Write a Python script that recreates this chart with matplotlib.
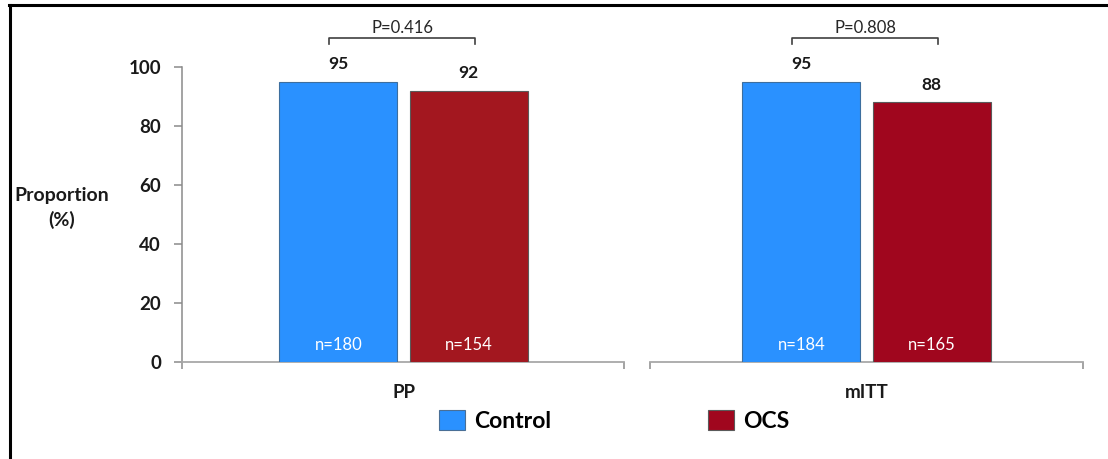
import matplotlib
matplotlib.use("Agg")
import matplotlib.pyplot as plt
from matplotlib.lines import Line2D
from matplotlib.patches import Patch

plt.rcParams['font.family'] = ['Lato', 'DejaVu Sans']

# Data
groups = ["PP", "mITT"]
series = ["Control", "OCS"]
control_pct = [95, 95]
ocs_pct = [92, 88]
control_n = [180, 184]
ocs_n = [154, 165]
p_values = ["P=0.416", "P=0.808"]

control_color = "#2A91FF"
ocs_colors = ["#A3171F", "#A0061E"]
edge_color = "#5a5a5a"

W, H = 1108, 459
fig = plt.figure(figsize=(W / 100, H / 100), dpi=100)

# Panel geometry (figure fractions)
bottom = (H - 362) / H
height = (362 - 67) / H
panels = [
    (182 / W, 442 / W, (-0.4784, 0.4762)),
    (650 / W, 433 / W, (-0.4676, 0.4676)),
]

bar_w = 0.255
offset = 0.1408
axes = []
for i, (left, width, xl) in enumerate(panels):
    ax = fig.add_axes([left, bottom, width, height])
    axes.append(ax)
    ax.set_xlim(*xl)
    ax.set_ylim(0, 100)
    for s in ("top", "right"):
        ax.spines[s].set_visible(False)
    ax.spines["bottom"].set_color("#a8a8a8")
    ax.spines["bottom"].set_linewidth(1.3)
    ax.spines["left"].set_color("#8a8a8a")
    ax.spines["left"].set_linewidth(1.1)
    ax.set_xticks(list(xl))
    ax.set_xticklabels([])
    ax.tick_params(axis="x", direction="out", length=5, width=1.1, color="#8a8a8a")
    if i == 0:
        ax.set_yticks(range(0, 101, 20))
        ax.tick_params(axis="y", direction="out", length=6, width=1.1,
                       color="#8a8a8a", pad=9, labelsize=13.5)
        for lab in ax.get_yticklabels():
            lab.set_fontweight("bold")
            lab.set_color("#1a1a1a")
    else:
        ax.spines["left"].set_visible(False)
        ax.set_yticks([])

    c_bar = ax.bar(-offset, control_pct[i], width=bar_w, color=control_color,
                   edgecolor="#3d6e9e", linewidth=0.8, zorder=3)
    o_bar = ax.bar(offset, ocs_pct[i], width=bar_w, color=ocs_colors[i],
                   edgecolor=edge_color, linewidth=0.8, zorder=3)

    # value labels above bars
    for bars, val in ((c_bar, control_pct[i]), (o_bar, ocs_pct[i])):
        r = bars[0]
        ax.annotate(f"{val}", (r.get_x() + r.get_width() / 2, val),
                    xytext=(0, 7), textcoords="offset points",
                    ha="center", va="bottom", fontsize=12.5, fontweight="bold",
                    color="#1a1a1a", annotation_clip=False)

    # sample sizes inside bars
    ax.text(-offset, 5.8, f"n={control_n[i]}", ha="center", va="center",
            color="white", fontsize=12, zorder=4)
    ax.text(offset, 5.8, f"n={ocs_n[i]}", ha="center", va="center",
            color="white", fontsize=12, zorder=4)

    # group label
    ax.text(0, -10.3, groups[i], ha="center", va="center", fontsize=13.5,
            fontweight="bold", color="#1a1a1a")

    # significance bracket
    bx0, bx1 = -0.16, 0.155
    ax.plot([bx0, bx0, bx1, bx1], [107.8, 109.8, 109.8, 107.8], color="#404040",
            linewidth=1.2, clip_on=False)
    ax.text((bx0 + bx1) / 2, 110.4, p_values[i], ha="center", va="bottom",
            fontsize=12, color="#262626")

# y-axis title
fig.text(62 / W, 1 - 208 / H, "Proportion\n(%)", ha="center", va="center",
         fontsize=14, fontweight="bold", color="#1a1a1a", linespacing=1.4)

# legend entries
handles = [Patch(facecolor=control_color, edgecolor="#4a6f96", linewidth=0.8),
           Patch(facecolor=ocs_colors[1], edgecolor=edge_color, linewidth=0.8)]
for h, name, x in zip(handles, series, (439, 708)):
    fig.legend([h], [name], loc="center left", bbox_to_anchor=(x / W, 1 - 421 / H),
               frameon=False, borderpad=0, borderaxespad=0,
               handlelength=1.15, handleheight=1.0, handletextpad=0.4,
               prop={"weight": "bold", "size": 16.5})

# outer frame (top and left edges)
fig.add_artist(Line2D([9 / W, 1], [1 - 5 / H, 1 - 5 / H], color="black", linewidth=2.2,
                      transform=fig.transFigure))
fig.add_artist(Line2D([10 / W, 10 / W], [1 - 5 / H, 0], color="black", linewidth=2.2,
                      transform=fig.transFigure))

fig.savefig("out.png", dpi=100)
